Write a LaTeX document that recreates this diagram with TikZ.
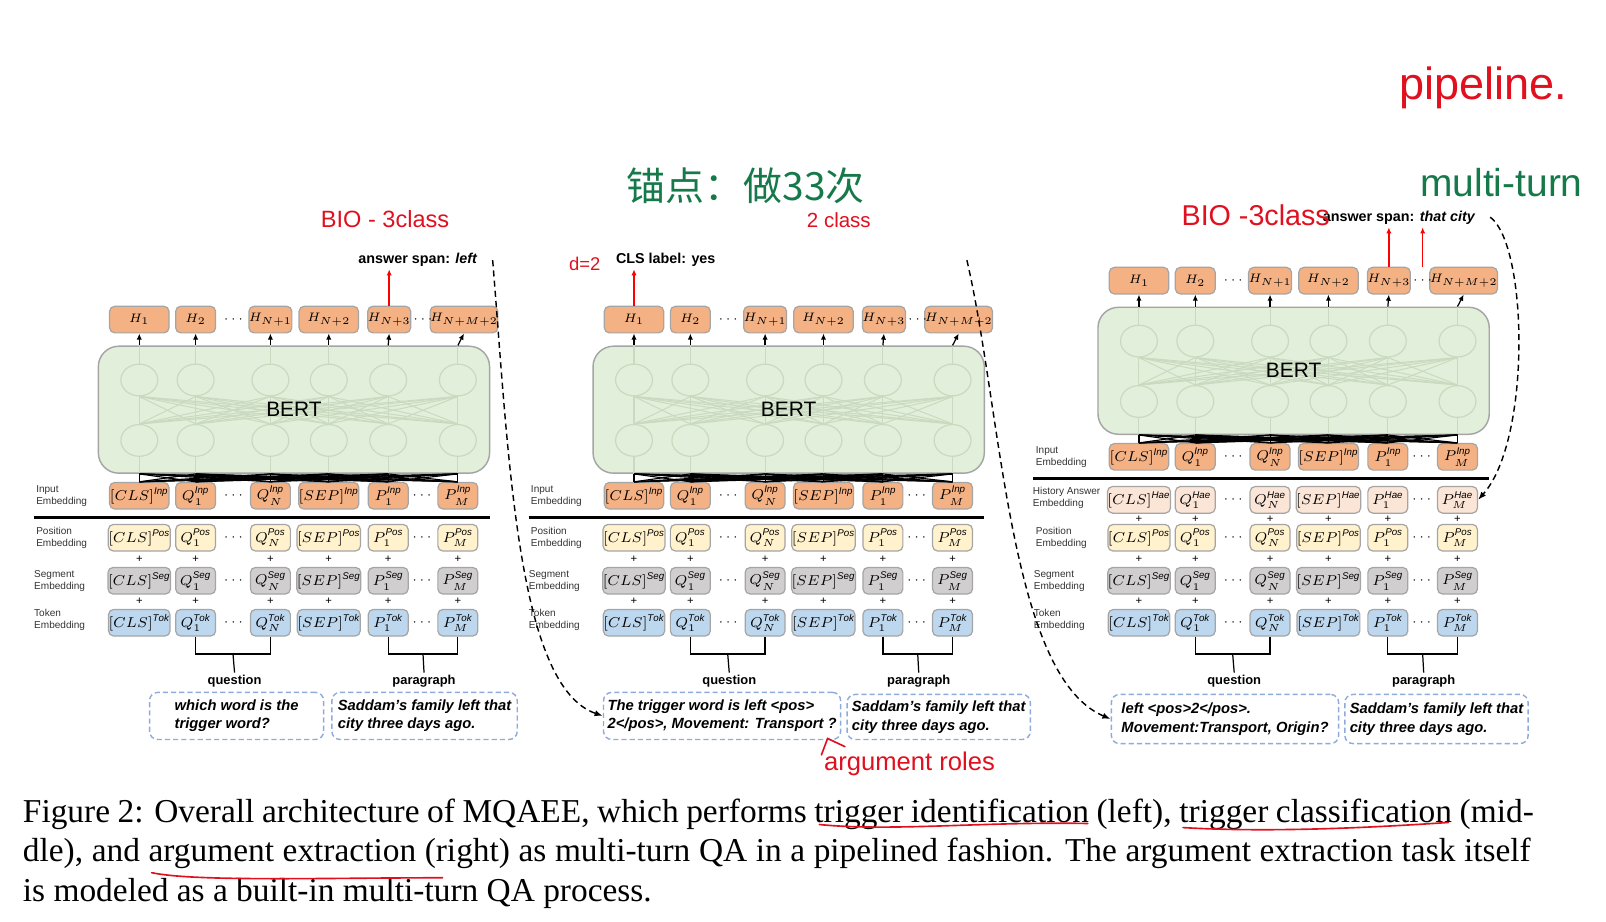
\documentclass[tikz,border=0pt]{standalone}
\usepackage{fontspec}
\setmainfont{Liberation Sans}
\newfontfamily\capfont{Liberation Serif}
\newfontfamily\cjkfont{Noto Sans CJK SC}
\usetikzlibrary{positioning, arrows.meta, calc, shapes.geometric}
\definecolor{cInp}{HTML}{F4B183}
\definecolor{cHae}{HTML}{FBE5D6}
\definecolor{cPos}{HTML}{FFF2CC}
\definecolor{cSeg}{HTML}{D0CECE}
\definecolor{cTok}{HTML}{BDD7EE}
\definecolor{cBert}{HTML}{E2EFDA}
\definecolor{cMesh}{HTML}{CADAC0}
\definecolor{cEdge}{HTML}{A5A5A5}
\definecolor{cDash}{HTML}{8FAADC}
\definecolor{cPen}{HTML}{E0101E}
\definecolor{cInk}{HTML}{16794A}

% one row of embedding boxes: panel, kind, y, superscript
\newcommand{\embrow}[4]{%
  \foreach \q/\x/\lab/\bw in {a/136/{[CLS]}/29, b/191/{Q_1}/19.5, c/264/{Q_N}/19.5,
                              d/321/{[SEP]}/29, e/379/{P_1}/19.5, f/447/{P_M}/19.5}
    \node[emb, fill=c#2, minimum width=\bw pt] (#1#2\q) at (\x,#3) {$\lab^{\mathit{#4}}$};
  \node[gap] (#1#2g1) at (228,#3) {$\cdots$};
  \node[gap] (#1#2g2) at (412,#3) {$\cdots$};
}
% the + signs between two rows
\newcommand{\plusrow}[3]{%
  \foreach \q/\x in {a/136, b/191, c/264, d/321, e/379, f/447}
    \node[plus] (#1#2\q) at (\x,#3) {+};
}
% BERT with its input and output rows
\newcommand{\bertpart}[1]{%
  \embrow{#1}{Inp}{484}{Inp}
  \node[rowlbl] (#1lblInp) at (35,484) {Input\\Embedding};
  \coordinate (#1sepl) at (33,505);
  \coordinate (#1sepr) at (478,505);
  \draw[sepline] (#1sepl) -- (#1sepr);
  \node[bertbox] (#1bert) at (287,400) {};
  \foreach \q/\x in {a/136, b/191, c/264, d/321, e/379, f/447} {
    \node[cell] (#1lo\q) at (\x,430) {};
    \node[cell] (#1up\q) at (\x,371) {};
    \draw[mesh] (#1lo\q.south |- #1bert.south) -- (#1lo\q.south);
    \draw[mesh] (#1up\q.north) -- (#1up\q.north |- #1bert.north);
  }
  \foreach \q in {a,...,f} \foreach \r in {a,...,f}
    \draw[mesh] (#1lo\q.north) -- (#1up\r.south);
  \node[bertname] (#1bertname) at (#1bert) {BERT};
  \foreach \q/\x/\lab/\bw in {a/136/H_1/29, b/191/H_2/19.5, c/264/H_{N+1}/19.5,
                              d/321/H_{N+2}/29, e/380/H_{N+3}/20.5, f/453/H_{N+M+2}/27}
    \node[emb, fill=cInp, font=\fontsize{6.5}{7}\selectfont, minimum width=\bw pt]
      (#1h\q) at (\x,312) {$\lab$};
  \node[gap] (#1hg1) at (228,312) {$\cdots$};
  \node[gap] (#1hg2) at (413,312) {$\cdots$};
  \foreach \q in {a,...,f}
    \draw[uparr] (#1Inp\q.north |- #1bert.north) -- (#1h\q.south);
  \foreach \q in {a,...,f} \foreach \r in {a,...,f}
    \draw[fan] (#1Inp\q.north) -- (#1Inp\r.north |- #1bert.south);
}
% position / segment / token rows and the question-paragraph brackets
\newcommand{\lowpart}[1]{%
  \embrow{#1}{Pos}{525}{Pos}
  \plusrow{#1}{pa}{546}
  \embrow{#1}{Seg}{567}{Seg}
  \plusrow{#1}{pb}{587}
  \embrow{#1}{Tok}{608}{Tok}
  \node[rowlbl] (#1lblPos) at (35,525) {Position\\Embedding};
  \node[rowlbl] (#1lblSeg) at (33,567) {Segment\\Embedding};
  \node[rowlbl] (#1lblTok) at (33,605) {Token\\Embedding};
  \node[part] (#1qlab) at (229,665) {question};
  \node[part] (#1plab) at (414,665) {paragraph};
  \coordinate (#1qm) at ($(#1Tokb.south)!.5!(#1Tokc.south)+(0,17)$);
  \coordinate (#1pm) at ($(#1Toke.south)!.5!(#1Tokf.south)+(0,17)$);
  \draw[brk] (#1Tokb.south) |- (#1qm) -| (#1Tokc.south);
  \draw[brk] (#1qm) -- (#1qlab.north);
  \draw[brk] (#1Toke.south) |- (#1pm) -| (#1Tokf.south);
  \draw[brk] (#1pm) -- (#1plab.north);
}

\begin{document}
\begin{tikzpicture}[
  x=0.5pt, y=-0.5pt,
  emb/.style={draw=cEdge, line width=0.6pt, rounded corners=2.5pt,
              minimum height=13pt, inner sep=0pt, font=\fontsize{6.8}{7}\selectfont},
  gap/.style={font=\fontsize{6}{7}\selectfont, inner sep=0pt},
  plus/.style={font=\fontsize{5.5}{6}\selectfont, inner sep=0pt,
               text height=3.6pt, text depth=0pt},
  rowlbl/.style={anchor=west, align=left, inner sep=0pt, text=black!80,
                 font=\fontsize{4.9}{5.8}\selectfont},
  sepline/.style={line width=1.5pt},
  bertbox/.style={draw=cEdge, fill=cBert, line width=0.7pt, rounded corners=10pt,
                  minimum width=191pt, minimum height=62pt, inner sep=0pt},
  cell/.style={ellipse, draw=cMesh, line width=0.6pt, minimum width=18pt,
               minimum height=15.5pt, inner sep=0pt},
  mesh/.style={draw=cMesh, line width=0.5pt},
  bertname/.style={font=\fontsize{10.2}{12}\selectfont},
  uparr/.style={-{Latex[length=3pt,width=2.6pt]}, line width=0.6pt},
  fan/.style={line width=0.55pt},
  brk/.style={line width=0.6pt},
  part/.style={font=\bfseries\fontsize{6.3}{7}\selectfont, inner sep=1pt},
  qbox/.style={draw=cDash, dash pattern=on 2.5pt off 1.5pt, line width=0.7pt,
               rounded corners=4pt, align=left, inner sep=2pt,
               font=\bfseries\itshape\fontsize{7.2}{9}\selectfont},
  answer/.style={font=\bfseries\fontsize{7}{8}\selectfont, inner sep=1pt},
  redarr/.style={-{Latex[length=3pt,width=2.6pt]}, draw=red, line width=0.7pt},
  flow/.style={dash pattern=on 3pt off 2pt, line width=0.7pt,
               -{Latex[length=4pt,width=3pt]}},
  pen/.style={draw=cPen, line width=0.8pt, line cap=round},
  hand/.style={inner sep=0pt},
  capline/.style={anchor=base west, inner sep=0pt,
                  font=\capfont\fontsize{16.3}{19}\selectfont},
]
\useasboundingbox (0,0) rectangle (1568,900);

% ---- three panels ------------------------------------------------------
\bertpart{L}
\lowpart{L}

\begin{scope}[shift={(483,0)}]
  \bertpart{M}
  \lowpart{M}
\end{scope}

\begin{scope}[shift={(976,-38)}]
  \bertpart{R}
\end{scope}
\begin{scope}[shift={(976,0)}]
  \embrow{R}{Hae}{488}{Hae}
  \plusrow{R}{ph}{507}
  \node[rowlbl] (RlblHae) at (32,486) {History Answer\\Embedding};
  \lowpart{R}
\end{scope}

% ---- outputs -----------------------------------------------------------
\node[answer] (Lans) at (408,254) {answer span: \textit{left}};
\node[answer] (Mans) at (650,254) {CLS label: yes};
\node[answer] (Rans) at (1366,213) {answer span: \textit{that city}};
\draw[redarr] (Lhe.north) -- (Lhe.north |- Lans.south);
\draw[redarr] (Mha.north) -- (Mha.north |- Mans.south);
\draw[redarr] (Rhe.north) -- (Rhe.north |- Rans.south);
\draw[redarr] (Rhg2.north |- Rhe.north) -- (Rhg2.north |- Rans.south);

% ---- questions and paragraphs ------------------------------------------
\node[qbox, minimum width=85pt, minimum height=23pt] (Lqbox) at (231,699)
  {which word is the\\trigger word?};
\node[qbox, minimum width=90.5pt, minimum height=23pt] (Lpbox) at (414.5,699)
  {Saddam's family left that\\city three days ago.};
\node[qbox, minimum width=115pt, minimum height=23pt] (Mqbox) at (705,699)
  {The trigger word is left <pos>\\2</pos>, Movement: Transport ?};
\node[qbox, minimum width=89.5pt, minimum height=22pt] (Mpbox) at (916.5,700)
  {Saddam's family left that\\city three days ago.};
\node[qbox, minimum width=111pt, minimum height=24pt] (Rqbox) at (1196,702)
  {left <pos>2</pos>.\\Movement:Transport, Origin?};
\node[qbox, minimum width=89.5pt, minimum height=24pt] (Rpbox) at (1402.5,702)
  {Saddam's family left that\\city three days ago.};

% ---- turn-to-turn hand-over --------------------------------------------
\coordinate (Lfrom) at (481,254);
\coordinate (Mfrom) at (944,254);
\coordinate (Rfrom) at (1455,212);
\draw[flow] (Lfrom) .. controls (497,450) and (505,670) .. (Mqbox.west);
\draw[flow] (Mfrom) .. controls (978,400) and (985,660) .. (Rqbox.west);
\draw[flow] (Rfrom) .. controls (1492,240) and (1495,430) .. (RHaef.east);

% ---- pen notes ---------------------------------------------------------
\node[hand, text=cPen, font=\fontsize{22}{24}\selectfont] (pipe) at (1448,86) {pipeline.};
\node[hand, text=cInk, font=\fontsize{19}{20}\selectfont] (multi) at (1466,178) {multi-turn};
\node[hand, text=cInk, font=\cjkfont\fontsize{19}{20}\selectfont] (anchor) at (728,181) {锚点：做33次};
\node[hand, text=cPen, font=\fontsize{10}{11}\selectfont] (twocls) at (819,215) {2 class};
\node[hand, text=cPen, font=\fontsize{11.5}{12}\selectfont] (bioL) at (376,214) {BIO - 3class};
\node[hand, text=cPen, font=\fontsize{14}{15}\selectfont] (bioR) at (1226,210) {BIO -3class};
\node[hand, text=cPen, font=\fontsize{9}{10}\selectfont] (dtwo) at (571,258) {d=2};
\node[hand, text=cPen, font=\fontsize{12.5}{13}\selectfont] (roles) at (888,746) {argument roles};
\coordinate (caretl) at (802,737);
\coordinate (caretr) at (825,729);
\draw[pen] (caretl) -- (808,721) -- (caretr);

% ---- caption -----------------------------------------------------------
\node[capline] (cap1) at (22,803) {\makebox[737.5pt][s]{Figure 2: Overall architecture
  of MQAEE, which performs trigger identification (left), trigger classification (mid-}};
\node[capline] (cap2) at (22,841) {\makebox[736pt][s]{dle), and argument extraction
  (right) as multi-turn QA in a pipelined fashion. The argument extraction task itself}};
\node[capline] (cap3) at (22,880) {is modeled as a built-in multi-turn QA process.};
\draw[pen] (800,805) .. controls (870,812) and (960,802) .. (1062,804);
\draw[pen] (1155,808) .. controls (1240,813) and (1340,808) .. (1414,803);
\draw[pen] (148,852) .. controls (190,861) and (320,857) .. (432,857);

\end{tikzpicture}
\end{document}
